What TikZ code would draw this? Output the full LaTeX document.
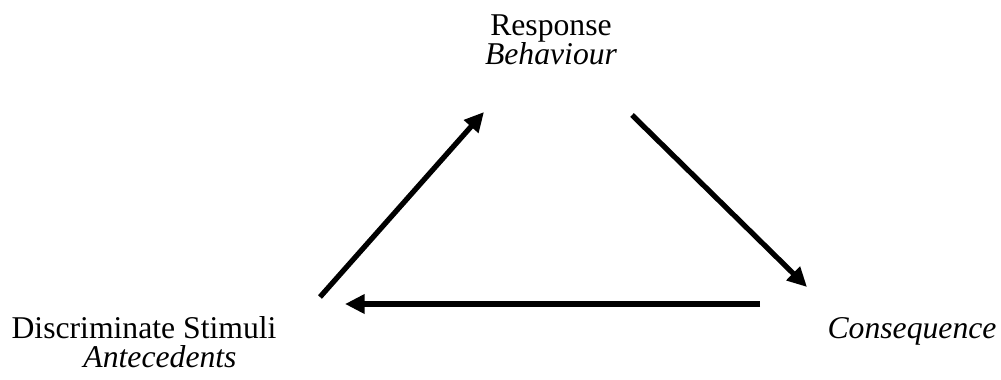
\documentclass[tikz,border=0pt]{standalone}
\usepackage{fontspec}
\setmainfont{Liberation Serif}
\usetikzlibrary{arrows.meta}

\begin{document}
\begin{tikzpicture}[
    x=0.3788pt, y=-0.3788pt,
    >={Triangle[length=7.4pt, width=7pt]},
    lbl/.style={anchor=base, inner sep=0pt, font=\fontsize{12}{14}\selectfont},
    term/.style={lbl, font=\fontsize{12}{14}\selectfont\itshape},
    arr/.style={->, line width=2pt},
  ]
    \useasboundingbox (0,0) rectangle (1001,379);
    % labels
    \node[lbl]  (resp)  at (551,35)  {Response};
    \node[term] (behav) at (551,64)  {Behaviour};
    \node[lbl]  (disc)  at (144,338) {Discriminate Stimuli};
    \node[term] (ante)  at (160,367) {Antecedents};
    \node[term] (cons)  at (912,338) {Consequence};
    % arrow ends
    \coordinate (a1) at (320,297);
    \coordinate (a2) at (484,112);
    \coordinate (b1) at (632,115);
    \coordinate (b2) at (807,287);
    \coordinate (c1) at (760,304);
    \coordinate (c2) at (345,304);
    \draw[arr] (a1) -- (a2);
    \draw[arr] (b1) -- (b2);
    \draw[arr] (c1) -- (c2);
\end{tikzpicture}
\end{document}
